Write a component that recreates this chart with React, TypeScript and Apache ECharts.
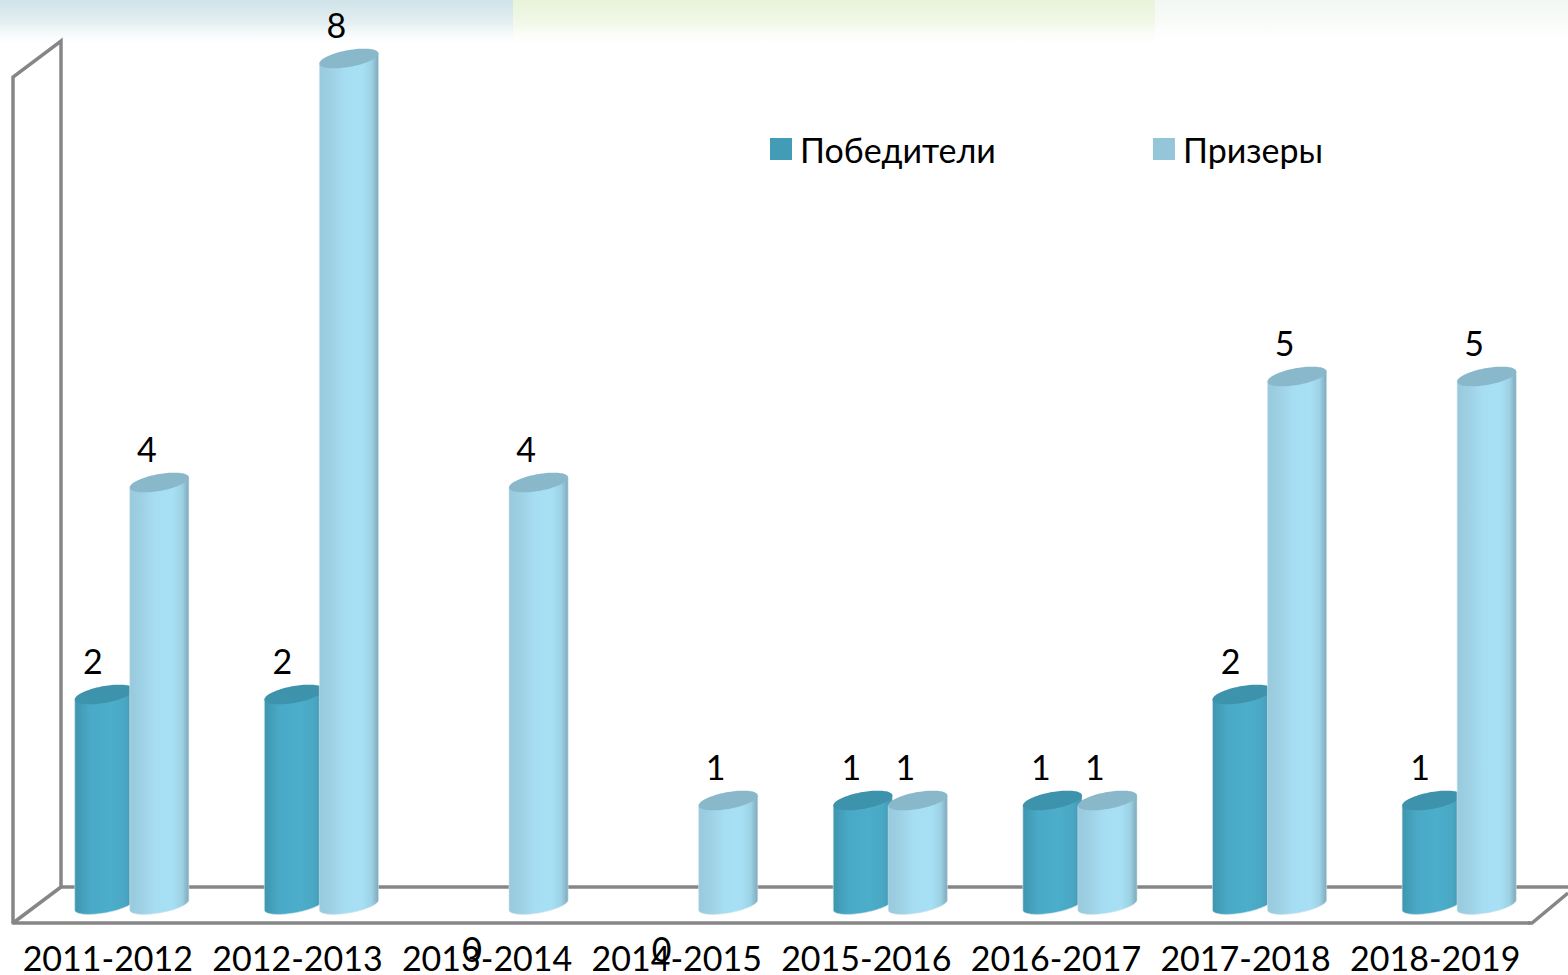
import React, { useEffect, useRef } from "react";
import * as echarts from "echarts";

const categories = ["2011-2012", "2012-2013", "2013-2014", "2014-2015", "2015-2016", "2016-2017", "2017-2018", "2018-2019"];
const winners = [2, 2, 0, 0, 1, 1, 2, 1];
const prizewinners = [4, 8, 4, 1, 1, 1, 5, 5];
const seriesNames = ["Победители", "Призеры"];
const legendColors = ["#439cb6", "#95c5d8"];
const topColors = ["#3e93ac", "#8ab8cb"];
const FONT = "Lato, Carlito, 'Open Sans', sans-serif";
const FRAME = "#868686";

const bodyStops = [
  [
    [0, "#3f95af"],
    [0.25, "#49a9c6"],
    [0.6, "#4caecb"],
    [0.85, "#49a7c3"],
    [1, "#3f93ad"],
  ],
  [
    [0, "#98c9dc"],
    [0.25, "#a0d3e7"],
    [0.42, "#a6ddf2"],
    [0.72, "#a7e0f5"],
    [0.88, "#9dd2e5"],
    [1, "#7fa9ba"],
  ],
];

const makeRender = (s: number) => (params: any, api: any) => {
  const i = api.value(0);
  const v = api.value(1);
  const p = api.coord([i, v]);
  const p0 = api.coord([i, 0]);
  const band = api.size([1, 0])[0];
  const a = band * 0.156;
  const cx = p[0] + (s === 0 ? -3.5 : 51.5);
  const labelX = p[0] + (s === 0 ? -15 : 39);
  const labelY = v === 0 ? p[1] + 25 : p[1] - 51;
  const text = {
    type: "text",
    z2: 20,
    style: {
      x: labelX,
      y: labelY,
      text: String(v),
      fill: "#000",
      font: `34px ${FONT}`,
      align: "center",
      verticalAlign: "middle",
    },
  };
  if (v === 0) return { type: "group", children: [text] };
  const tilt = 5;
  const minor = 8.5;
  const cyTop = p[1] - 16.5;
  const cyBase = p0[1] - 18;
  const lower: number[][] = [];
  const ellipse: number[][] = [];
  const N = 48;
  for (let k = 0; k <= N; k++) {
    const t = -(Math.PI * k) / N;
    lower.push([cx + a * Math.cos(t), cyBase - tilt * Math.cos(t) - 8 * Math.sin(t)]);
  }
  for (let k = 0; k < N * 2; k++) {
    const t = (Math.PI * k) / N;
    ellipse.push([cx + a * Math.cos(t), cyTop - tilt * Math.cos(t) - minor * Math.sin(t)]);
  }
  const body = [[cx - a, cyTop + tilt], [cx + a, cyTop - tilt], ...lower];
  return {
    type: "group",
    children: [
      {
        type: "polygon",
        shape: { points: body },
        style: {
          fill: new echarts.graphic.LinearGradient(
            0, 0, 1, 0,
            bodyStops[s].map(([offset, color]) => ({ offset: offset as number, color: color as string }))
          ),
          stroke: "#d5e4ea",
          lineWidth: 0.6,
        },
      },
      { type: "polygon", shape: { points: ellipse }, style: { fill: topColors[s] } },
      text,
    ],
  };
};

const bannerRect = (x: number, w: number, color: string, mid: string) => ({
  type: "rect",
  z: 0,
  shape: { x, y: 0, width: w, height: 48 },
  style: {
    fill: new echarts.graphic.LinearGradient(0, 0, 0, 1, [
      { offset: 0, color },
      { offset: 0.5, color: mid },
      { offset: 1, color: "rgba(255,255,255,0)" },
    ]),
  },
});

const frameLine = (points: number[][]) => ({
  type: "polyline",
  z: 1,
  shape: { points },
  style: { stroke: FRAME, lineWidth: 3.5, fill: "none" },
});

export default function App() {
  const ref = useRef<HTMLDivElement>(null);
  useEffect(() => {
    const chart = echarts.init(ref.current!, undefined, { renderer: "svg" });
    chart.setOption({
      animation: false,
      backgroundColor: "#fff",
      textStyle: { fontFamily: FONT },
      grid: { left: 13, right: 38, top: 75, bottom: 52, containLabel: false },
      legend: {
        left: 765,
        top: 127,
        icon: "rect",
        itemWidth: 22,
        itemHeight: 22,
        itemGap: 157,
        data: seriesNames,
        textStyle: { fontSize: 34, color: "#000", fontFamily: FONT, padding: [0, 0, 0, 3] },
      },
      xAxis: {
        type: "category",
        data: categories,
        axisTick: { show: false },
        axisLine: { show: true, lineStyle: { color: FRAME, width: 3.5 } },
        axisLabel: { color: "#000", fontSize: 34, lineHeight: 30, fontFamily: FONT, margin: 19, interval: 0 },
      },
      yAxis: {
        type: "value",
        min: 0,
        max: 8,
        interval: 1,
        axisLine: { show: false },
        axisTick: { show: false },
        axisLabel: { show: false },
        splitLine: { show: false },
      },
      graphic: {
        elements: [
          bannerRect(0, 513, "#cfe3e8", "#e6f0f3"),
          bannerRect(513, 642, "#e8f3d8", "#f3f8ea"),
          bannerRect(1155, 413, "#f3f7f3", "#f9fbf9"),
          frameLine([[13, 923], [13, 77], [61, 41], [61, 887], [1568, 887]]),
          frameLine([[13, 923], [61, 887]]),
          frameLine([[1528, 923], [1532, 923], [1568, 893]]),
        ],
      },
      series: [winners, prizewinners].map((values, s) => ({
        type: "custom",
        name: seriesNames[s],
        coordinateSystem: "cartesian2d",
        clip: false,
        z: 3 + s,
        itemStyle: { color: legendColors[s] },
        encode: { x: 0, y: 1 },
        data: values.map((v, i) => [i, v]),
        renderItem: makeRender(s),
      })),
    });
    return () => chart.dispose();
  }, []);
  return <div ref={ref} style={{ position: "absolute", left: 0, top: 0, width: 1568, height: 975 }} />;
}
